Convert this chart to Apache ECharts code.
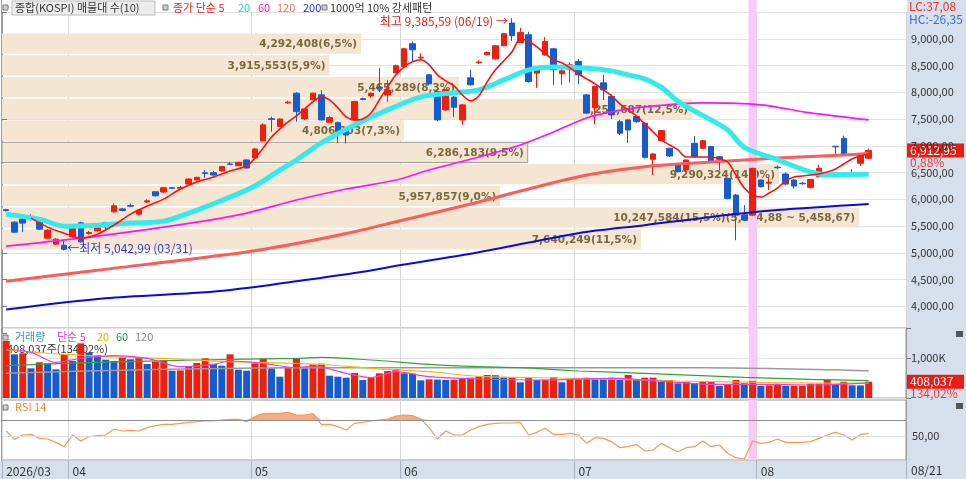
<!DOCTYPE html>
<html>
<head>
<meta charset="utf-8">
<script src="https://cdn.jsdelivr.net/npm/echarts@6/dist/echarts.min.js"></script>
<style>
html,body{margin:0;padding:0;background:#fff}
#chart{width:966px;height:479px}
</style>
</head>
<body>
<div id="chart"></div>
<script>
// 거래일 (월별)
const tradingDays = [
    ['2026/03', [20,23,24,25,26,27,30,31]],
    ['2026/04', [1,2,3,6,7,8,9,10,13,14,15,16,17,20,21,22,23,24,27,28,29,30]],
    ['2026/05', [4,6,7,8,11,12,13,14,15,18,19,20,21,22,26,27,28,29]],
    ['2026/06', [1,2,4,5,8,9,10,11,12,15,16,17,18,19,22,23,24,25,26,29,30]],
    ['2026/07', [1,2,3,6,7,8,9,10,13,14,15,16,20,21,22,23,24,27,28,29,30,31]],
    ['2026/08', [3,4,5,6,7,10,11,12,13,14,18,19,20,21]]
];
const emptySlots = 4;
const highlightDate = '2026/07/31';

// 시가 / 종가 / 저가 / 고가
const opens = [5805,5572,5629,5680,5572,5273,5160,5142,5297,5560,5360,5410,5560,5766,5820,5885,5722,5950,6140,6135,
    6215,6205,6284,6360,6495,6497,6528,6660,6628,6734,6771,7090,7505,7357,7800,7983,7502,7858,7951,7440,
    7432,7314,7483,7880,7930,8090,7950,8364,8476,8906,8640,8326,8013,7670,7908,7483,8270,8550,8700,8625,
    8869,9294,8931,9075,8357,8700,8813,8345,8420,8575,7950,7708,8176,7920,7450,7483,7545,7420,6747,7095,
    6953,6640,6546,7046,6953,6984,6796,6390,6078,5700,5703,6360,6300,6600,6472,6360,6300,6222,6421,6800,
    6990,7140,6490,6672,6766];
const closes = [5790,5385,5554,5660,5441,5423,5254,5065,5466,5204,5380,5466,5485,5878,5790,5870,5797,5970,6065,6215,
    6205,6220,6378,6410,6480,6453,6609,6650,6690,6584,6940,7390,7490,7500,7815,7638,7689,7983,7483,7526,
    7264,7202,7826,7865,7980,8075,8040,8495,8813,8794,8655,8157,7483,8045,7720,7764,8140,8565,8743,8869,
    9094,9056,9118,8200,8470,8950,8420,8400,8513,8326,7610,8107,8045,7577,7234,7295,7450,6784,6846,7283,
    6809,6515,6734,6796,7095,6703,6747,6016,5703,5610,6578,6235,6320,6590,6284,6247,6290,6372,6578,6815,
    6980,6846,6480,6828,6912.95];
const lows = [5770,5370,5385,5600,5430,5250,5150,5042.99,5280,5190,5340,5395,5410,5750,5775,5850,5700,5930,6050,6120,
    6190,6195,6270,6350,6400,6440,6520,6640,6620,6570,6760,7080,7264,7350,7780,7450,7480,7850,7470,7430,
    7052,7040,7470,7850,7900,8000,7820,8350,8460,8580,8600,8130,7460,7650,7540,7390,8120,8530,8690,8610,
    8860,8960,8920,8180,8082,8680,8138,8140,8180,8150,7590,7400,7857,7500,7200,7052,7430,6760,6453,7080,
    6790,6500,6530,6780,6940,6690,6546,6000,5235,5590,5690,6220,6172,6560,6260,6200,6270,6200,6410,6790,
    6820,6830,6440,6620,6750];
const highs = [5820,5590,5650,5720,5590,5440,5270,5250,5480,5580,5410,5480,5580,5920,5840,5920,5810,6000,6150,6230,
    6230,6250,6390,6420,6550,6530,6620,6690,6700,6750,6950,7420,7545,7510,7840,8000,7700,7990,8040,7560,
    7450,7330,7840,7900,8000,8450,8230,8520,8830,8950,8730,8340,8030,8060,7930,7780,8420,8600,8760,8880,
    9110,9385.59,9206,9130,8490,9030,8830,8510,8560,8620,7970,8120,8326,7960,7480,7500,7560,7440,6860,7290,
    6960,6650,6740,7180,7110,7000,6810,6400,6100,5890,6590,6370,6397,6630,6500,6380,6320,6380,6640,6830,
    7000,7190,6560,6850,6950];
const changePct = 0.88;

// 이동평균 [index, value]
const ma5Pts = [[3,5647],[5,5479],[7,5366],[9,5273],[11,5348],[13,5516],[15,5722],[17,5872],[19,6003],[21,6191],
    [23,6322],[25,6415],[27,6528],[29,6621],[30,6771],[31,6959],[32,7164],[33,7314],[34,7445],[35,7558],
    [36,7689],[37,7820],[38,7914],[39,7858],[40,7708],[41,7539],[42,7483],[43,7502],[44,7614],[45,7858],
    [46,8101],[47,8326],[48,8476],[49,8569],[50,8607],[51,8513],[52,8326],[53,8213],[54,8120],[55,7951],
    [56,7839],[57,7933],[58,8195],[59,8419],[60,8588],[61,8757],[62,9000],[63,8950],[64,8850],[65,8719],
    [66,8607],[67,8550],[68,8457],[69,8344],[70,8251],[71,8157],[72,8045],[73,7933],[74,7783],[75,7670],
    [76,7558],[77,7408],[78,7258],[79,7108],[80,7015],[81,6921],[82,6790],[83,6790],[84,6790],[85,6790],
    [86,6752],[87,6696],[88,6453],[89,6209],[90,6078],[91,6041],[92,6116],[93,6209],[94,6341],[95,6415],
    [96,6434],[97,6453],[98,6472],[99,6509],[100,6565],[101,6659],[102,6752],[103,6809],[104,6846]];
const ma20Pts = [[0,5722],[4,5629],[7,5497],[11,5516],[15,5554],[19,5591],[23,5797],[27,6041],[30,6247],[33,6546],
    [35,6734],[38,7052],[42,7389],[46,7670],[50,7914],[54,7989],[57,8045],[60,8232],[63,8419],[66,8470],
    [70,8450],[73,8400],[75,8326],[77,8250],[79,8090],[81,7830],[83,7650],[85,7483],[87,7296],[89,6970],
    [93,6740],[97,6509],[99,6460],[104,6465]];
const ma60Pts = [[0,5123],[11,5310],[23,5572],[29,5741],[35,5985],[41,6190],[47,6359],[51,6546],[57,6790],[62,7015],
    [66,7258],[70,7520],[73,7633],[77,7726],[84,7801],[91,7764],[97,7614],[104,7483]];
const ma120Pts = [[0,4467],[11,4673],[29,5016],[35,5173],[41,5360],[47,5578],[57,5950],[69,6421],[77,6608],[85,6696],
    [93,6771],[101,6827],[104,6855]];
const ma200Pts = [[0,3940],[12,4150],[24,4260],[30,4360],[36,4490],[42,4620],[48,4780],[57,5010],[69,5366],[77,5516],
    [85,5670],[93,5797],[104,5910]];

// 거래량
const volumes = [1425000,1092000,1117000,742000,892000,867000,717000,1100000,925000,1367000,
    1133000,1075000,958000,925000,1017000,967000,1025000,850000,908000,942000,
    683000,690000,783000,875000,992000,850000,808000,1092000,708000,683000,
    867000,983000,742000,533000,758000,983000,742000,842000,858000,558000,
    533000,508000,625000,450000,517000,617000,675000,725000,617000,610000,
    442000,467000,460000,455000,458000,483000,508000,533000,575000,570000,
    517000,520000,392000,508000,450000,455000,517000,392000,467000,470000,
    508000,467000,465000,508000,505000,575000,475000,508000,510000,408000,
    450000,367000,408000,367000,408000,410000,300000,350000,450000,367000,
    425000,300000,317000,358000,300000,302000,305000,358000,360000,450000,
    350000,408000,317000,315000,408037];
const volPct = 134.02;
const vma5Pts = [[0,1225000],[3,1142000],[6,892000],[9,992000],[13,1058000],[17,992000],[21,783000],[25,842000],
    [27,925000],[31,867000],[35,758000],[37,800000],[41,617000],[44,508000],[47,658000],[51,533000],[57,475000],
    [65,450000],[73,492000],[81,392000],[85,342000],[91,342000],[97,325000],[104,380000]];
const vma20Pts = [[0,1200000],[7,1092000],[15,1017000],[19,992000],[27,908000],[35,867000],[39,825000],[44,742000],
    [51,658000],[57,540000],[69,492000],[81,425000],[93,383000],[104,367000]];
const vma60Pts = [[0,808000],[11,892000],[23,950000],[35,992000],[38,1017000],[44,950000],[51,842000],[57,783000],
    [62,758000],[69,675000],[77,617000],[89,517000],[97,467000],[104,433000]];
const vma120Pts = [[0,617000],[11,683000],[28,742000],[40,758000],[50,758000],[84,758000],[104,683000]];

// RSI 14
const rsi = [56.25,45.8,51.25,52,47,46.25,42,36.7,51.25,43.75,49.2,50.4,51.25,58.75,56.25,57,56.25,60.4,62.9,64.6,
    64.6,65.8,67.1,67.9,68.75,68.75,70,70.8,70.8,67.9,74.2,77.9,78.3,78.3,79.6,76.25,76.25,77.9,64.6,64.6,
    61.7,57.5,65.8,67.1,68.75,70,71.25,75,76.25,75.4,71.25,60.4,46.25,56.25,51.25,51.25,57.5,
    61.7,64.6,65.8,66.25,66.25,67.1,51.25,54.6,59.6,52,52,53.3,51.25,40.8,47.9,47,42.9,35.4,36.7,39.6,
    31.25,32.5,40.8,35.4,30.4,35.4,36.7,43.75,36.7,38.75,28.4,22.9,21.25,43.75,40.8,42,46.25,42,42,42,
    42.9,47,51.25,54.6,51.25,45,52,53.3];
const rsiUpper = 70;

// 매물대 (아래 구간부터)
const profileLow = 5052.46;
const profileStep = 406.21;
const profileVolumes = [7640249,10247584,5957857,9290324,6286183,4806203,8251687,5465289,3915553,4292408];
const profilePct = [11.5,15.5,9.0,14.0,9.5,7.3,12.5,8.3,5.9,6.5];

// 기타 지표 텍스트
const lcValue = 37.08, hcValue = -26.35;

const FONT = '"Noto Sans CJK KR", "Liberation Sans", sans-serif';
const UP = '#ec200c', DOWN = '#175ccf';
const PINK = '#fbc9f7';

const dates = [];
tradingDays.forEach(([ym, days]) => days.forEach(d => dates.push(ym + '/' + String(d).padStart(2, '0'))));
const categories = dates.concat(new Array(emptySlots).fill(''));
const monthStarts = dates.map((d, i) => i === 0 || d.slice(0, 7) !== dates[i - 1].slice(0, 7) ? i : -1).filter(i => i >= 0);
const isMonthStart = i => monthStarts.indexOf(i) >= 0;
const lastIdx = dates.length - 1;
const lastClose = closes[lastIdx];
const highlightIdx = dates.indexOf(highlightDate);

function fmt2(v) {
    return v.toLocaleString('en-US', {minimumFractionDigits: 2, maximumFractionDigits: 2}).replace(/\./g, ',');
}
function fmtInt(v) { return Math.round(v).toLocaleString('en-US'); }

const maxIdx = highs.indexOf(Math.max.apply(null, highs));
const minIdx = lows.indexOf(Math.min.apply(null, lows));
const maxProfile = Math.max.apply(null, profileVolumes);
const maxK = profileVolumes.indexOf(maxProfile);

function profileLabel(k) {
    const lo = profileLow + profileStep * k, hi = lo + profileStep;
    let s = fmtInt(profileVolumes[k]) + '(' + profilePct[k].toFixed(1).replace('.', ',') + '%)';
    if (k === maxK) s += '(' + fmt2(hi) + ' ~ ' + fmt2(lo) + ')';
    return s;
}

// 매물대 막대 + 라벨
function renderProfile(params, api) {
    const vol = api.value(0), lo = api.value(1), hi = api.value(2), k = api.value(3);
    const p1 = api.coord([0, hi]);
    const p2 = api.coord([vol, lo]);
    const x = p1[0], y = p1[1] + 1, w = p2[0] - p1[0], h = p2[1] - p1[1] - 1.5;
    const isCur = lo <= lastClose && lastClose < hi;
    return {
        type: 'group',
        children: [
            {type: 'rect', shape: {x: x, y: y, width: w, height: h},
             style: {fill: '#f5e6d3', stroke: isCur ? '#9c9c9c' : null, lineWidth: 1}},
            {type: 'text', style: {text: profileLabel(k), x: x + w - 4, y: y + h / 2 + 1, align: 'right',
             verticalAlign: 'middle', fill: '#7b673a', font: 'bold 10.5px "DejaVu Sans"'}}
        ]
    };
}

function mkX(gi, withLabels) {
    return {
        type: 'category', gridIndex: gi, data: categories, boundaryGap: true,
        axisLine: {show: false},
        axisTick: {show: withLabels, interval: isMonthStart, length: 19, lineStyle: {color: '#a9b3c2'}},
        axisLabel: {show: withLabels, interval: isMonthStart, align: 'left', margin: 5, color: '#333', fontSize: 12,
            formatter: (v, i) => i === 0 ? v.slice(0, 7) : v.slice(5, 7)},
        splitLine: {show: true, interval: isMonthStart, lineStyle: {color: '#d6d6d6'}}
    };
}

function maLine(name, pts, color, width, xi, yi) {
    return {name: name, type: 'line', xAxisIndex: xi, yAxisIndex: yi, data: pts, showSymbol: false, smooth: 0.3,
        lineStyle: {color: color, width: width}, silent: true};
}

const chart = echarts.init(document.getElementById('chart'));

const option = {
    animation: false,
    backgroundColor: '#fff',
    textStyle: {fontFamily: FONT},
    grid: [
        {left: 2, right: 60, top: 12, height: 321},
        {left: 2, right: 60, top: 328, height: 70, show: true, borderColor: '#9a9a9a', borderWidth: 1},
        {left: 2, right: 60, top: 400, height: 60, show: true, borderColor: '#9a9a9a', borderWidth: 1}
    ],
    xAxis: [mkX(0, false), mkX(1, false), mkX(2, true),
        {type: 'value', gridIndex: 0, min: 0, max: maxProfile / 0.948, show: false}],
    yAxis: [
        {type: 'value', gridIndex: 0, position: 'right', min: 3500, max: 9500, interval: 500,
         axisLine: {show: true, lineStyle: {color: '#9a9a9a'}},
         axisTick: {show: true, length: 5, lineStyle: {color: '#777'}},
         axisLabel: {color: '#333', fontSize: 11, margin: 5,
            formatter: v => (v <= 3500 || v >= 9500) ? '' : fmt2(v)},
         splitLine: {show: true, showMinLine: false, lineStyle: {color: '#e3e3e3'}}},
        {type: 'value', gridIndex: 1, position: 'right', min: 0, max: 1750000, interval: 1000000,
         axisLine: {show: true, lineStyle: {color: '#9a9a9a'}},
         axisTick: {show: true, length: 5, lineStyle: {color: '#777'}},
         axisLabel: {color: '#333', fontSize: 11, margin: 5,
            formatter: v => v === 1000000 ? '1,000K' : ''},
         splitLine: {show: true, lineStyle: {color: '#e3e3e3'}}},
        {type: 'value', gridIndex: 2, position: 'right', min: 20, max: 95, interval: 5,
         axisLine: {show: true, lineStyle: {color: '#9a9a9a'}},
         axisTick: {show: false}, axisLabel: {show: false}, splitLine: {show: false}}
    ],
    series: [
        // 매물대
        {type: 'custom', xAxisIndex: 3, yAxisIndex: 0, silent: true, renderItem: renderProfile,
         encode: {x: 0, y: 1},
         data: profileVolumes.map((v, k) => [v, profileLow + profileStep * k, profileLow + profileStep * (k + 1), k])},
        // 강조 일자
        {type: 'bar', xAxisIndex: 0, yAxisIndex: 0, barWidth: '100%', silent: true,
         itemStyle: {color: PINK}, data: dates.map(d => d === highlightDate ? 9500 : null)},
        maLine('200', ma200Pts, '#0a0ae0', 2, 0, 0),
        maLine('120', ma120Pts, '#ff5b5b', 3, 0, 0),
        maLine('60', ma60Pts, '#ff10ff', 1.6, 0, 0),
        maLine('20', ma20Pts, '#35eaec', 5, 0, 0),
        {type: 'candlestick', xAxisIndex: 0, yAxisIndex: 0, barWidth: 6,
         itemStyle: {color: UP, color0: DOWN, borderColor: UP, borderColor0: DOWN, borderWidth: 1},
         data: dates.map((d, i) => [opens[i], closes[i], lows[i], highs[i]]),
         markPoint: {
            symbol: 'circle', symbolSize: 0, silent: true,
            label: {fontSize: 12, fontFamily: FONT},
            data: [
                {coord: [maxIdx, highs[maxIdx]], label: {position: 'left', distance: 4, offset: [0, 3], color: '#f21c1c',
                    formatter: '최고 ' + fmt2(highs[maxIdx]) + ' (' + dates[maxIdx].slice(5) + ') →'}},
                {coord: [minIdx, lows[minIdx]], label: {position: 'right', distance: 3, offset: [0, -2], color: '#2f3fd6',
                    formatter: '←최저 ' + fmt2(lows[minIdx]) + ' (' + dates[minIdx].slice(5) + ')'}}
            ]
         }},
        maLine('5', ma5Pts, '#ff1010', 1.6, 0, 0),

        // 거래량
        {type: 'bar', xAxisIndex: 1, yAxisIndex: 1, barWidth: '100%', silent: true, barGap: '-100%',
         itemStyle: {color: PINK}, data: dates.map(d => d === highlightDate ? 1750000 : null)},
        {type: 'bar', xAxisIndex: 1, yAxisIndex: 1, barWidth: 7, silent: true,
         data: volumes.map((v, i) => ({value: v, itemStyle: {color: (i === 0 || v >= volumes[i - 1]) ? UP : DOWN}}))},
        maLine('v120', vma120Pts, '#9a9a9a', 1.5, 1, 1),
        maLine('v60', vma60Pts, '#2fa63a', 1.2, 1, 1),
        maLine('v20', vma20Pts, '#f4b71c', 1.2, 1, 1),
        maLine('v5', vma5Pts, '#ea3fe0', 1.2, 1, 1),

        // RSI
        {type: 'bar', xAxisIndex: 2, yAxisIndex: 2, barWidth: '100%', silent: true,
         itemStyle: {color: PINK}, data: dates.map(d => d === highlightDate ? 95 : null)},
        {type: 'line', xAxisIndex: 2, yAxisIndex: 2, stack: 'rsiFill', showSymbol: false, silent: true,
         lineStyle: {opacity: 0}, data: rsi.map(() => rsiUpper)},
        {type: 'line', xAxisIndex: 2, yAxisIndex: 2, stack: 'rsiFill', showSymbol: false, silent: true,
         lineStyle: {opacity: 0}, areaStyle: {color: '#f4ac80', opacity: 1},
         data: rsi.map(v => Math.max(v - rsiUpper, 0))},
        {type: 'line', xAxisIndex: 2, yAxisIndex: 2, showSymbol: false, silent: true,
         lineStyle: {color: '#f79a55', width: 1.2}, data: rsi,
         markLine: {silent: true, symbol: ['none', 'none'],
            data: [
                {yAxis: rsiUpper, lineStyle: {color: '#8e8e8e', type: 'solid', width: 1}, label: {show: false}},
                {yAxis: 50, lineStyle: {color: '#dedede', type: 'solid', width: 1},
                 label: {show: true, position: 'end', distance: 6, formatter: '50,00', color: '#333', fontSize: 11}}
            ]}}
    ]
};

chart.setOption(option);

// 현재값 태그 / 강조 열 위치는 축 변환으로 계산
const yPrice = chart.convertToPixel({yAxisIndex: 0}, lastClose);
const yVol = chart.convertToPixel({yAxisIndex: 1}, volumes[lastIdx]);
const xHi0 = chart.convertToPixel({xAxisIndex: 0}, highlightIdx);
const xHi1 = chart.convertToPixel({xAxisIndex: 0}, highlightIdx + 1);
const bandW = xHi1 - xHi0;

function txt(x, y, text, fill, size, extra) {
    return Object.assign({type: 'text', x: x, y: y, silent: true,
        style: {text: text, fill: fill, font: (size || 11) + 'px ' + FONT, verticalAlign: 'middle'}}, extra || {});
}
function icon(x, y) {
    return {type: 'rect', silent: true, shape: {x: x, y: y, width: 5, height: 5},
        style: {fill: '#cfcfcf', stroke: '#7a7a7a', lineWidth: 1}};
}

chart.setOption({
    graphic: [
        {type: 'rect', z: -5, silent: true, shape: {x: 907, y: 0, width: 59, height: 479}, style: {fill: '#d6e0ec'}},
        {type: 'rect', z: -5, silent: true, shape: {x: 0, y: 461, width: 907, height: 18}, style: {fill: '#d6e0ec'}},
        {type: 'rect', z: -5, silent: true, shape: {x: xHi0 - bandW / 2, y: 0, width: bandW, height: 13}, style: {fill: PINK}},
        {type: 'line', silent: true, shape: {x1: 1.5, y1: 0, x2: 1.5, y2: 461}, style: {stroke: '#a0a0a0', lineWidth: 1}},
        {type: 'line', silent: true, shape: {x1: 906.5, y1: 461, x2: 906.5, y2: 479}, style: {stroke: '#8f9aaa', lineWidth: 1}},

        // 상단 범례
        icon(3, 5),
        {type: 'rect', silent: true, shape: {x: 12, y: 1, width: 143, height: 14}, style: {fill: '#ececec', stroke: '#bdbdbd'}},
        txt(15, 8, '종합(KOSPI) 매물대 수(10)', '#333'),
        icon(163, 5),
        txt(173, 8, '종가 단순 5', '#f51e1e'),
        txt(238, 8, '20', '#1fd6e6'),
        txt(258, 8, '60', '#f018f0'),
        txt(277, 8, '120', '#ff6a6a'),
        txt(303, 8, '200', '#2a2ae6'),
        icon(322, 5),
        txt(330, 8, '1000억 10% 강세패턴', '#333'),

        // 우측 상단
        txt(909, 6, 'LC:' + fmt2(lcValue), '#f03030', 12),
        txt(909, 19, 'HC:' + fmt2(hcValue), '#3b6fd6', 12),

        // 현재가 태그
        {type: 'rect', silent: true, shape: {x: 907, y: yPrice - 7, width: 57, height: 14}, style: {fill: '#e81e14'}},
        txt(910, yPrice, fmt2(lastClose), '#fff', 12),
        txt(910, yPrice + 12, fmt2(changePct) + '%', '#f03a3a', 12),

        // 거래량 헤더/태그
        icon(3, 335),
        txt(15, 337, '거래량', '#3a9e9e'),
        txt(57, 337, '단순 5', '#e23ad8'),
        txt(97, 337, '20', '#f0b000'),
        txt(116, 337, '60', '#2d9a3a'),
        txt(135, 337, '120', '#8a8a8a'),
        txt(7, 349, fmtInt(volumes[lastIdx]) + '주(' + fmt2(volPct) + '%)', '#333'),
        {type: 'rect', silent: true, shape: {x: 907, y: yVol - 7, width: 57, height: 14}, style: {fill: '#e81e14'}},
        txt(910, yVol, fmtInt(volumes[lastIdx]), '#fff', 12),
        txt(910, yVol + 12, fmt2(volPct) + '%', '#f03a3a', 12),
        {type: 'rect', silent: true, shape: {x: 956, y: 331, width: 7, height: 6}, style: {fill: '#555'}},

        // RSI 헤더
        icon(3, 405),
        txt(15, 407, 'RSI 14', '#ff8434'),
        {type: 'rect', silent: true, shape: {x: 956, y: 403, width: 7, height: 6}, style: {fill: '#555'}},

        // 마지막 일자
        txt(911, 470, dates[lastIdx].slice(5), '#333', 12)
    ]
});

window.addEventListener('resize', function () {
    chart.resize();
});
</script>
</body>
</html>
